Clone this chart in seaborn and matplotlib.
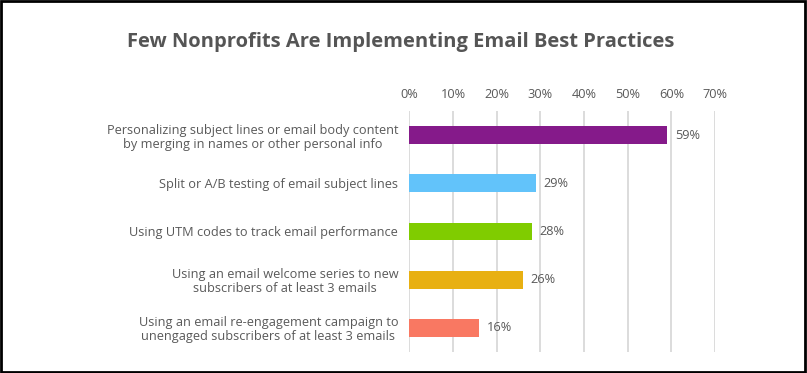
import pandas as pd
import matplotlib.pyplot as plt
import seaborn as sb

# chart data
practices = [
    "Personalizing subject lines or email body content\nby merging in names or other personal info",
    "Split or A/B testing of email subject lines",
    "Using UTM codes to track email performance",
    "Using an email welcome series to new\nsubscribers of at least 3 emails",
    "Using an email re-engagement campaign to\nunengaged subscribers of at least 3 emails",
]
percent = [59, 29, 28, 26, 16]
bar_colors = ["#851A8A", "#62C3FA", "#80CC00", "#E8B012", "#F97862"]
x_ticks = [0, 10, 20, 30, 40, 50, 60, 70]

df = pd.DataFrame({"practice": practices, "percent": percent})

sb.set_style("white")
plt.rcParams['font.family'] = ['Open Sans', 'DejaVu Sans']
text_col = "#595959"

fig = plt.figure(figsize=(8.07, 3.73), dpi=100)
ax = fig.add_axes([409.3 / 807, 1 - 352 / 373, (715 - 409.3) / 807, (352 - 111) / 373])

sb.barplot(data=df, x="percent", y="practice", hue="practice", palette=bar_colors,
           saturation=1, legend=False, width=0.37, linewidth=0, ax=ax, zorder=3)

ax.set_xlim(0, 70)
ax.set_ylim(4.5, -0.5)
ax.set_xticks(x_ticks)
ax.set_xticklabels([f"{t}%" for t in x_ticks])
ax.xaxis.tick_top()
ax.tick_params(axis="x", length=0, pad=7, labelsize=9.2, labelcolor=text_col)
ax.tick_params(axis="y", length=0, pad=8, labelsize=9.2, labelcolor=text_col)
ax.set_xlabel("")
ax.set_ylabel("")
for lab in ax.get_yticklabels():
    lab.set_multialignment("center")
    lab.set_linespacing(1.1)
ax.grid(axis="x", color="#d9d9d9", linewidth=1.3, zorder=0)
for s in ax.spines.values():
    s.set_visible(False)

# value labels
for i, v in enumerate(percent):
    ax.text(v + 1.8, i, f"{v}%", va="center", ha="left", fontsize=9.2, color=text_col)

fig.text(401 / 807, 1 - 42 / 373, "Few Nonprofits Are Implementing Email Best Practices",
         ha="center", va="center", fontsize=14.5, fontweight="bold", color="#555555")

# outer frame
fig.patches.append(plt.Rectangle((0.001, 0.002), 0.997, 0.995, transform=fig.transFigure,
                                 fill=False, edgecolor="black", linewidth=2))

fig.savefig("out.png", dpi=100)
